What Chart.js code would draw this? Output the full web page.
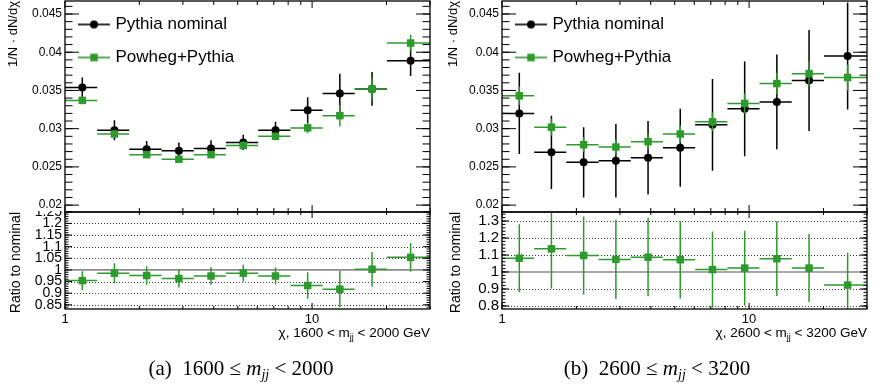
<!DOCTYPE html>
<html>
<head>
<meta charset="utf-8">
<title>Chi distributions, Pythia vs Powheg+Pythia</title>
<script src="https://cdn.jsdelivr.net/npm/chart.js@4.4.1/dist/chart.umd.min.js"></script>
<style>
  html, body { margin: 0; padding: 0; background: #fff; }
  #page { position: relative; width: 880px; height: 390px; overflow: hidden; font-family: "Liberation Sans", Arial, sans-serif; }
  .panel { position: absolute; top: 0; width: 440px; height: 390px; }
  .panel canvas { position: absolute; left: 0; }
  .top-pad { top: 0; }
  .ratio-pad { top: 211px; }
  .x-title { position: absolute; top: 325px; font-size: 13.5px; line-height: 16px; white-space: nowrap; color: #000; }
  .x-title sub { font-size: 9px; vertical-align: -3px; line-height: 0; }
  .caption { position: absolute; top: 356px; font-family: "Liberation Serif", serif; font-size: 21px; line-height: 24px; white-space: nowrap; transform: translateX(-50%); color: #000; }
  .caption sub { font-size: 14px; vertical-align: -4px; line-height: 0; }
</style>
</head>
<body>
<div id="page">
  <div class="panel" style="left:0">
    <canvas id="topA" class="top-pad" width="440" height="214"></canvas>
    <canvas id="ratioA" class="ratio-pad" width="440" height="129"></canvas>
    <div class="x-title" style="right:10px">χ, 1600 &lt; m<sub>jj</sub> &lt; 2000 GeV</div>
    <div class="caption" style="left:241px">(a)&nbsp; 1600 ≤ <i>m<sub>jj</sub></i> &lt; 2000</div>
  </div>
  <div class="panel" style="left:440px">
    <canvas id="topB" class="top-pad" width="440" height="214"></canvas>
    <canvas id="ratioB" class="ratio-pad" width="440" height="129"></canvas>
    <div class="x-title" style="right:13px">χ, 2600 &lt; m<sub>jj</sub> &lt; 3200 GeV</div>
    <div class="caption" style="left:217px">(b)&nbsp; 2600 ≤ <i>m<sub>jj</sub></i> &lt; 3200</div>
  </div>
</div>

<script>
// chi binning (same for both mass ranges)
const chiEdges = [1, 1.35, 1.82, 2.46, 3.32, 4.48, 6.05, 8.17, 11.02, 14.88, 20.09, 30];
const chiCenters = [1.175, 1.585, 2.14, 2.89, 3.9, 5.265, 7.11, 9.595, 12.95, 17.485, 25.045];

// (a) 1600 < mjj < 2000 GeV
const pythiaA = [0.0354, 0.0298, 0.0273, 0.0271, 0.0274, 0.0282, 0.0298, 0.0324, 0.0346, 0.0352, 0.0389];
const pythiaAErr = [0.0013, 0.0013, 0.0011, 0.0011, 0.0011, 0.001, 0.0011, 0.0017, 0.0026, 0.0022, 0.002];
const powhegA = [0.0337, 0.0293, 0.0266, 0.026, 0.0266, 0.0278, 0.029, 0.0301, 0.0317, 0.0352, 0.0412];
const powhegAErr = [0.0005, 0.0005, 0.0004, 0.0004, 0.0004, 0.0005, 0.0005, 0.0007, 0.0014, 0.0014, 0.0011];
const ratioA = [0.954, 0.986, 0.976, 0.963, 0.974, 0.986, 0.974, 0.933, 0.917, 1.003, 1.054];
const ratioAErr = [0.04, 0.043, 0.04, 0.039, 0.038, 0.036, 0.036, 0.057, 0.078, 0.074, 0.062];

// (b) 2600 < mjj < 3200 GeV
const pythiaB = [0.032, 0.0269, 0.0256, 0.0258, 0.0262, 0.0275, 0.0305, 0.0326, 0.0335, 0.0363, 0.0395];
const pythiaBErr = [0.0053, 0.0048, 0.0046, 0.0048, 0.0048, 0.0051, 0.006, 0.0062, 0.0062, 0.0066, 0.007];
const powhegB = [0.0343, 0.0302, 0.0279, 0.0276, 0.0283, 0.0293, 0.0309, 0.0333, 0.0359, 0.0372, 0.0367];
const powhegBErr = [0.0012, 0.0011, 0.001, 0.001, 0.001, 0.0011, 0.0012, 0.0013, 0.0014, 0.0016, 0.0017];
const ratioB = [1.081, 1.136, 1.097, 1.074, 1.087, 1.072, 1.014, 1.023, 1.078, 1.023, 0.923];
const ratioBErr = [0.2, 0.233, 0.23, 0.233, 0.23, 0.228, 0.224, 0.22, 0.22, 0.2, 0.19];

// axis labels
const topTicks = [0.02, 0.025, 0.03, 0.035, 0.04, 0.045];
const ratioTicksA = [0.85, 0.9, 0.95, 1, 1.05, 1.1, 1.15, 1.2, 1.25];
const ratioTicksB = [0.8, 0.9, 1, 1.1, 1.2, 1.3];
const xTicks = [1, 10];
const xMinorTicks = [2, 3, 4, 5, 6, 7, 8, 9, 20, 30];

const GREEN = "#2e9a2e";
Chart.defaults.font.family = "'Liberation Sans', Arial, sans-serif";
Chart.defaults.color = "#000";

const toPoints = (values) => values.map((y, i) => ({ x: chiCenters[i], y: y }));

// keep the chart area where ROOT has it: no extra room for edge labels
const fixWidth = (w) => (s) => {
  s.width = w;
  s.paddingTop = 0;
  s.paddingBottom = 0;
};
const fixHeight = (h) => (s) => {
  s.height = h;
  s.paddingLeft = 0;
  s.paddingRight = 0;
};

// bin width + stat error, drawn just before the markers of each dataset
const binErrors = {
  id: "binErrors",
  beforeDatasetDraw(chart, args) {
    const ds = chart.data.datasets[args.index];
    if (!ds.errors) return;
    const { ctx, chartArea } = chart;
    const xs = chart.scales.x;
    const ys = chart.scales.y;
    ctx.save();
    ctx.beginPath();
    ctx.rect(chartArea.left, chartArea.top, chartArea.width, chartArea.height);
    ctx.clip();
    ctx.strokeStyle = ds.backgroundColor;
    ctx.lineWidth = 1.5;
    ds.data.forEach((p, i) => {
      const x = xs.getPixelForValue(p.x);
      const y = ys.getPixelForValue(p.y);
      ctx.beginPath();
      ctx.moveTo(xs.getPixelForValue(chiEdges[i]), y);
      ctx.lineTo(xs.getPixelForValue(chiEdges[i + 1]), y);
      ctx.moveTo(x, ys.getPixelForValue(p.y + ds.errors[i]));
      ctx.lineTo(x, ys.getPixelForValue(p.y - ds.errors[i]));
      ctx.stroke();
    });
    ctx.restore();
  },
};

// ROOT-style frame: inward ticks on all four sides, dotted grid, line at 1
const rootFrame = {
  id: "rootFrame",
  beforeDatasetsDraw(chart, args, opts) {
    if (!opts.dotted) return;
    const { ctx, chartArea: a } = chart;
    const ys = chart.scales.y;
    ctx.save();
    ctx.lineWidth = 1;
    ctx.strokeStyle = "#333";
    ctx.setLineDash([1, 2]);
    opts.dotted.forEach((v) => {
      if (v === opts.refLine || v > ys.max || v < ys.min) return;
      const y = Math.round(ys.getPixelForValue(v)) + 0.5;
      ctx.beginPath();
      ctx.moveTo(a.left, y);
      ctx.lineTo(a.right, y);
      ctx.stroke();
    });
    ctx.setLineDash([]);
    ctx.strokeStyle = "#8c8c8c";
    ctx.lineWidth = 1.6;
    const yRef = ys.getPixelForValue(opts.refLine);
    ctx.beginPath();
    ctx.moveTo(a.left, yRef);
    ctx.lineTo(a.right, yRef);
    ctx.stroke();
    ctx.restore();
  },
  afterDraw(chart, args, opts) {
    const { ctx, chartArea: a } = chart;
    const xs = chart.scales.x;
    const ys = chart.scales.y;
    ctx.save();
    ctx.strokeStyle = "#000";
    ctx.lineWidth = 1;
    ctx.beginPath();
    const tickY = (v, len) => {
      const y = ys.getPixelForValue(v);
      if (y < a.top - 0.5 || y > a.bottom + 0.5) return;
      ctx.moveTo(a.left, y);
      ctx.lineTo(a.left + len, y);
      ctx.moveTo(a.right, y);
      ctx.lineTo(a.right - len, y);
    };
    const tickX = (v, len) => {
      const x = xs.getPixelForValue(v);
      ctx.moveTo(x, a.bottom);
      ctx.lineTo(x, a.bottom - len);
      ctx.moveTo(x, a.top);
      ctx.lineTo(x, a.top + len);
    };
    opts.yMajor.forEach((v) => tickY(v, opts.yMajorLen));
    for (let k = Math.ceil(ys.min / opts.yMinorStep); k * opts.yMinorStep <= ys.max; k++) {
      tickY(k * opts.yMinorStep, opts.yMinorLen);
    }
    xTicks.forEach((v) => tickX(v, opts.xMajorLen));
    xMinorTicks.forEach((v) => tickX(v, opts.xMinorLen));
    ctx.stroke();
    ctx.lineWidth = 1.3;
    ctx.strokeRect(a.left, a.top, a.width, a.height);
    ctx.restore();
  },
};

// legend symbol: marker sitting on a short horizontal line
const legendIcon = (color, square) => {
  const c = document.createElement("canvas");
  c.width = 32;
  c.height = 12;
  const g = c.getContext("2d");
  g.strokeStyle = color;
  g.fillStyle = color;
  g.lineWidth = 1.6;
  g.beginPath();
  g.moveTo(0, 6);
  g.lineTo(32, 6);
  g.stroke();
  g.beginPath();
  if (square) g.rect(12.25, 2.25, 7.5, 7.5);
  else g.arc(16, 6, 4, 0, Math.PI * 2);
  g.fill();
  return c;
};
const legendIcons = [legendIcon("#000", false), legendIcon(GREEN, true)];

const makeTop = (id, pythia, pythiaErr, powheg, powhegErr, axisWidth, padRight) =>
  new Chart(document.getElementById(id), {
    type: "scatter",
    data: {
      datasets: [
        { label: "Pythia nominal", data: toPoints(pythia), errors: pythiaErr, backgroundColor: "#000", borderWidth: 0, pointStyle: "circle", pointRadius: 4, order: 1 },
        { label: "Powheg+Pythia", data: toPoints(powheg), errors: powhegErr, backgroundColor: GREEN, borderWidth: 0, pointStyle: "rect", pointRadius: 5.3, order: 0 },
      ],
    },
    plugins: [rootFrame, binErrors],
    options: {
      responsive: false,
      animation: false,
      events: [],
      layout: { autoPadding: false, padding: { left: 0, right: padRight, top: 1, bottom: 2 } },
      scales: {
        x: { type: "logarithmic", min: 1, max: 30, display: false },
        y: {
          type: "linear",
          min: 0.0191,
          max: 0.0467,
          afterBuildTicks: (s) => { s.ticks = topTicks.map((v) => ({ value: v })); },
          afterFit: fixWidth(axisWidth),
          grid: { display: false, drawTicks: false },
          border: { display: false },
          ticks: { font: { size: 12 }, padding: 3, autoSkip: false, callback: (v) => String(v) },
          title: { display: true, text: "1/N · dN/dχ", align: "end", font: { size: 13 }, padding: { top: 6, bottom: 0 } },
        },
      },
      plugins: {
        tooltip: { enabled: false },
        legend: {
          position: "chartArea",
          align: "start",
          labels: {
            usePointStyle: true,
            pointStyleWidth: 26,
            padding: 16,
            font: { size: 17 },
            sort: (a, b) => a.datasetIndex - b.datasetIndex,
            generateLabels: (chart) =>
              Chart.defaults.plugins.legend.labels.generateLabels(chart).map((item) => ({ ...item, pointStyle: legendIcons[item.datasetIndex] })),
          },
        },
        rootFrame: { yMajor: topTicks, yMajorLen: 14, yMinorStep: 0.001, yMinorLen: 7.5, xMajorLen: 7, xMinorLen: 4 },
      },
    },
  });

const makeRatio = (id, ratio, ratioErr, ticks, yMin, yMax, minorStep, labelSize, axisWidth, padRight) =>
  new Chart(document.getElementById(id), {
    type: "scatter",
    data: {
      datasets: [
        { label: "Ratio", data: toPoints(ratio), errors: ratioErr, backgroundColor: GREEN, borderWidth: 0, pointStyle: "rect", pointRadius: 5.3 },
      ],
    },
    plugins: [rootFrame, binErrors],
    options: {
      responsive: false,
      animation: false,
      events: [],
      layout: { autoPadding: false, padding: { left: 0, right: padRight, top: 1, bottom: 0 } },
      scales: {
        x: {
          type: "logarithmic",
          min: 1,
          max: 30,
          afterBuildTicks: (s) => { s.ticks = xTicks.map((v) => ({ value: v })); },
          afterFit: fixHeight(31),
          grid: { display: false, drawTicks: false },
          border: { display: false },
          ticks: { font: { size: 13 }, padding: 3, autoSkip: false, maxRotation: 0, callback: (v) => String(v) },
        },
        y: {
          type: "linear",
          min: yMin,
          max: yMax,
          afterBuildTicks: (s) => { s.ticks = ticks.map((v) => ({ value: v })); },
          afterFit: fixWidth(axisWidth),
          grid: { display: false, drawTicks: false },
          border: { display: false },
          ticks: { font: { size: labelSize }, padding: 3, autoSkip: false, callback: (v) => String(v) },
          title: { display: true, text: "Ratio to nominal", align: "end", font: { size: 14 }, padding: { top: 8, bottom: 0 } },
        },
      },
      plugins: {
        tooltip: { enabled: false },
        legend: { display: false },
        rootFrame: { dotted: ticks, refLine: 1, yMajor: ticks, yMajorLen: 7, yMinorStep: minorStep, yMinorLen: 3.5, xMajorLen: 6, xMinorLen: 3 },
      },
    },
  });

makeTop("topA", pythiaA, pythiaAErr, powhegA, powhegAErr, 65, 10);
makeRatio("ratioA", ratioA, ratioAErr, ratioTicksA, 0.832, 1.249, 0.01, 14, 65, 10);
makeTop("topB", pythiaB, pythiaBErr, powhegB, powhegBErr, 62, 13);
makeRatio("ratioB", ratioB, ratioBErr, ratioTicksB, 0.782, 1.353, 0.02, 15, 62, 13);
</script>
</body>
</html>
